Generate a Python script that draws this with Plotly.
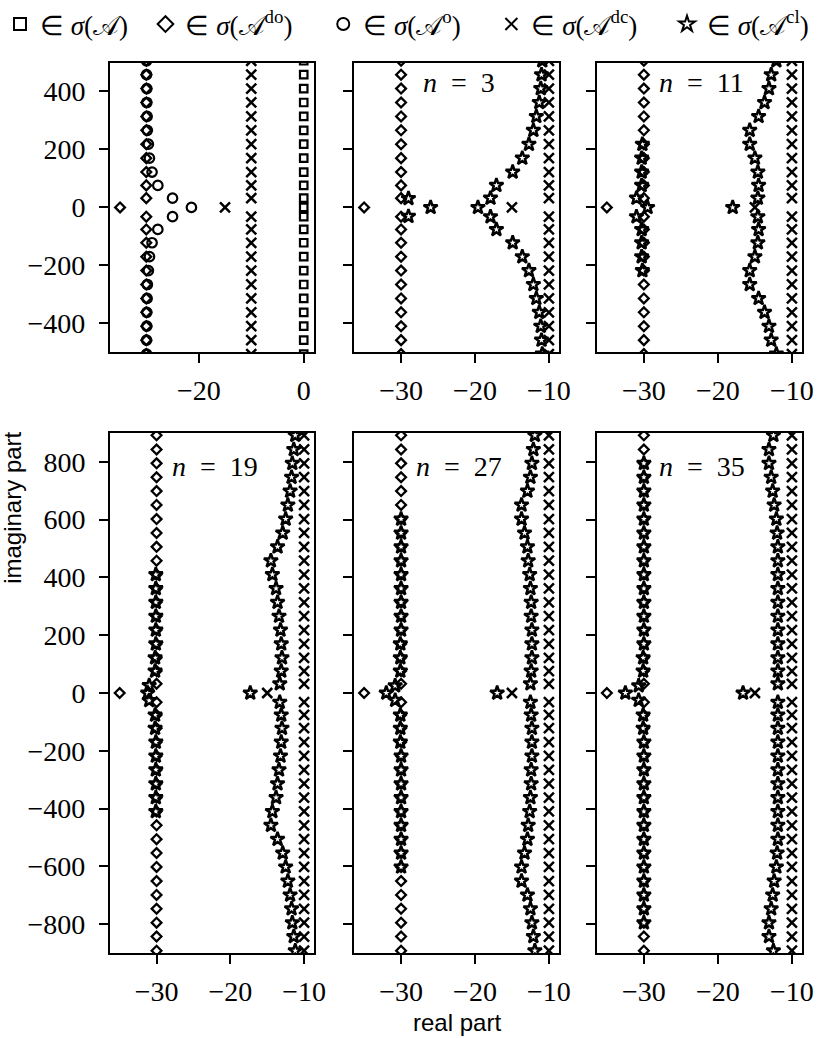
import plotly.graph_objects as go

# ---------------- data ----------------
# imaginary parts of the modes (upper half; the spectra are symmetric)
MODE_Y = [32, 76, 122, 170, 218, 266, 314, 362, 410, 458, 506,
          554, 602, 651, 699, 747, 795, 843, 892]

# sigma(A): on the imaginary axis (panel 1 only)
A_X = 0.0
A_ZERO = True

# sigma(A^do): diamonds
DO_X = -30.0
DO_ZERO_X = -35.0

# sigma(A^dc): crosses
DC_X = -10.0
DC_ZERO_X = -15.0

# sigma(A^o): circles (panel 1) real parts for mode 0..11
O_X = [-21.4, -25.0, -27.8, -28.9, -29.4, -29.6, -29.8, -29.85, -29.9, -29.9, -29.95, -29.95]

# sigma(A^cl): stars, per panel
N_LABELS = [3, 11, 19, 27, 35]

CL_ZERO = {  # real parts of the two stars on the real axis
    3: [-26.0, -19.6],
    11: [-29.5, -18.0],
    19: [-31.2, -17.3],
    27: [-32.0, -17.0],
    35: [-32.5, -16.6],
}
# left group (observer-like) real parts for modes k=1..
CL_LEFT_X = {
    3: [-29.0],
    11: [-31.0, -30.3, -30.3, -30.3, -30.2],
    19: [-31.0, -30.2, -30.2, -30.1, -30.1, -30.1, -30.1, -30.1, -30.1],
    27: [-30.8, -30.1, -30.1, -30.1, -30.0, -30.0, -30.0, -30.0, -30.0, -30.0, -30.0, -30.0, -30.0],
    35: [-30.7, -30.1, -30.1, -30.0, -30.0, -30.0, -30.0, -30.0, -30.0, -30.0, -30.0, -30.0, -30.0,
         -30.0, -30.0, -30.0, -30.0],
}
CL_LEFT_Y1 = {3: 31, 11: 32, 19: 26, 27: 25, 35: 25}
# right group real parts for modes k=1..
CL_RIGHT_X = {
    3: [-17.9, -17.1, -14.9, -13.6, -12.7, -12.1, -11.7, -11.3, -11.1, -11.0, -10.9],
    11: [-14.6, -14.5, -14.6, -15.0, -15.7, -15.7, -14.5, -13.7, -13.1, -12.8, -12.1],
    19: [-13.3, -13.1, -13.0, -13.1, -13.2, -13.4, -13.6, -13.8, -14.3, -14.5, -13.6, -12.9,
         -12.5, -12.2, -11.9, -11.7, -11.6, -11.4, -11.2],
    27: [-12.5, -12.4, -12.3, -12.3, -12.3, -12.4, -12.4, -12.5, -12.6, -12.8, -12.9, -13.3,
         -13.7, -13.7, -12.9, -12.5, -12.3, -12.1, -11.9],
    35: [-11.9, -11.9, -11.9, -11.9, -11.9, -11.9, -11.9, -11.9, -11.9, -11.9, -11.9, -12.0,
         -12.1, -12.4, -12.6, -12.8, -13.1, -13.1, -12.5],
}

# axes ranges and ticks
TOP_Y_RANGE = [-500, 500]
BOT_Y_RANGE = [-900, 900]
P1_X_RANGE = [-36.9, 1.9]
X_RANGE = [-36.3, -8.7]
TOP_Y_TICKS = [-400, -200, 0, 200, 400]
BOT_Y_TICKS = [-800, -600, -400, -200, 0, 200, 400, 600, 800]
P1_X_TICKS = [-20, 0]
X_TICKS = [-30, -20, -10]

LEGEND_NAMES = ["\u2208 <i>\u03c3</i>(\U0001D49C)",
                "\u2208 <i>\u03c3</i>(\U0001D49C<sup>do</sup>)",
                "\u2208 <i>\u03c3</i>(\U0001D49C<sup>o</sup>)",
                "\u2208 <i>\u03c3</i>(\U0001D49C<sup>dc</sup>)",
                "\u2208 <i>\u03c3</i>(\U0001D49C<sup>cl</sup>)"]

# ---------------- styling ----------------
W, H = 830, 1038
SERIF = "Liberation Serif"
SANS = "Liberation Sans"
BLACK = "black"

STY = {
    "A": dict(symbol="square-open", size=7.5, lw=2.2),
    "do": dict(symbol="diamond-open", size=7.5, lw=2.3),
    "o": dict(symbol="circle-open", size=9.5, lw=2.2),
    "dc": dict(symbol="x-thin-open", size=10, lw=2.5),
    "cl": dict(symbol="star-open", size=10.5, lw=2.5),
}
ORDER = ["A", "do", "o", "dc", "cl"]
LEGEND_IDS = ["legend", "legend2", "legend3", "legend4", "legend5"]
LEGEND_MARKER_PX = [9.6, 167.6, 348.0, 518.6, 696.8]

COLS_PX = [(111.7, 318.3), (359.7, 566.7), (606.0, 813.3)]
ROWS_PX = [(62.5, 352.3), (433.0, 953.0)]


def mirror(ys):
    return list(ys) + [-v for v in ys]


fig = go.Figure()
shown = set()


def add(kind, xs, ys, axis_idx):
    sfx = "" if axis_idx == 1 else str(axis_idx)
    st = STY[kind]
    k = ORDER.index(kind)
    fig.add_trace(go.Scatter(
        x=xs, y=ys, mode="markers", xaxis="x" + sfx, yaxis="y" + sfx,
        name=LEGEND_NAMES[k], legendgroup=kind, legend=LEGEND_IDS[k],
        showlegend=kind not in shown,
        marker=dict(symbol=st["symbol"], size=st["size"], color=BLACK,
                    line=dict(color=BLACK, width=st["lw"])),
        hoverinfo="x+y"))
    shown.add(kind)


# panel 1
p1_modes = MODE_Y[:11]
add("A", [A_X] * (len(p1_modes) * 2 + (1 if A_ZERO else 0)),
    ([0] if A_ZERO else []) + mirror(p1_modes), 1)
add("do", [DO_ZERO_X] + [DO_X] * (2 * len(p1_modes)), [0] + mirror(p1_modes), 1)
add("o", [O_X[0]] + O_X[1:] + O_X[1:], [0] + mirror(p1_modes), 1)
add("dc", [DC_ZERO_X] + [DC_X] * (2 * len(p1_modes)), [0] + mirror(p1_modes), 1)

for i, n in enumerate(N_LABELS):
    ax = i + 2
    modes = MODE_Y[:11] if ax <= 3 else MODE_Y
    add("do", [DO_ZERO_X] + [DO_X] * (2 * len(modes)), [0] + mirror(modes), ax)
    add("dc", [DC_ZERO_X] + [DC_X] * (2 * len(modes)), [0] + mirror(modes), ax)
    lx = CL_LEFT_X[n]
    ly = [CL_LEFT_Y1[n]] + MODE_Y[1:len(lx)]
    rx = CL_RIGHT_X[n]
    ry = modes[:len(rx)]
    xs = CL_ZERO[n] + lx + lx + rx + rx
    ys = [0, 0] + mirror(ly) + mirror(ry)
    add("cl", xs, ys, ax)

# ---------------- axes ----------------
layout = dict(
    width=W, height=H, margin=dict(l=0, r=0, t=0, b=0),
    paper_bgcolor="white", plot_bgcolor="white",
    font=dict(family=SERIF, size=28, color=BLACK),
    showlegend=True,
)
for lid, mx in zip(LEGEND_IDS, LEGEND_MARKER_PX):
    layout[lid] = dict(orientation="h", x=max(mx - 20.0, 0.0) / W, y=1.0,
                       xanchor="left", yanchor="top",
                       font=dict(family=SERIF, size=27), itemsizing="constant",
                       bgcolor="rgba(0,0,0,0)", itemwidth=30)


def minus(v):
    return ("\u2212" + str(abs(v))) if v < 0 else str(v)


for idx in range(1, 7):
    r = 0 if idx <= 3 else 1
    c = (idx - 1) % 3
    x0, x1 = COLS_PX[c]
    y0, y1 = ROWS_PX[r]
    sfx = "" if idx == 1 else str(idx)
    xt = P1_X_TICKS if idx == 1 else X_TICKS
    yt = TOP_Y_TICKS if r == 0 else BOT_Y_TICKS
    common = dict(showgrid=False, zeroline=False, showline=True, linecolor=BLACK,
                  linewidth=2.2, mirror=True, ticks="outside", ticklen=9, tickwidth=2.2,
                  tickcolor=BLACK, tickfont=dict(family=SERIF, size=28, color=BLACK))
    layout["xaxis" + sfx] = dict(
        domain=[x0 / W, x1 / W], anchor="y" + sfx,
        range=P1_X_RANGE if idx == 1 else X_RANGE, ticklabelstandoff=3,
        tickvals=xt, ticktext=[minus(v) for v in xt], **common)
    layout["yaxis" + sfx] = dict(
        domain=[1 - y1 / H, 1 - y0 / H], anchor="x" + sfx,
        range=TOP_Y_RANGE if r == 0 else BOT_Y_RANGE, ticklabelstandoff=8,
        tickvals=yt, ticktext=[minus(v) for v in yt], showticklabels=(c == 0),
        **common)

fig.update_layout(**layout)

# panel labels n = ...
LABEL_POS = [(466, 83), (712, 83), (218, 466), (466, 466), (712, 466)]
for n, (px, py) in zip(N_LABELS, LABEL_POS):
    fig.add_annotation(x=px / W, y=1 - py / H, xref="paper", yref="paper",
                       xanchor="center", yanchor="middle",
                       text="<i>n</i>\u2002=\u2002%d" % n, showarrow=False,
                       font=dict(family=SERIF, size=28, color=BLACK))

fig.add_annotation(x=12 / W, y=1 - 508 / H, xref="paper", yref="paper",
                   xanchor="center", yanchor="middle",
                   text="imaginary part", textangle=-90, showarrow=False,
                   font=dict(family=SANS, size=24, color=BLACK))
fig.add_annotation(x=464 / W, y=1 - 1022 / H, xref="paper", yref="paper",
                   xanchor="center", yanchor="middle",
                   text="real part", showarrow=False,
                   font=dict(family=SANS, size=24, color=BLACK))

fig.write_html("out.html", config={"displayModeBar": False},
               post_script="document.body.style.margin='0';")
